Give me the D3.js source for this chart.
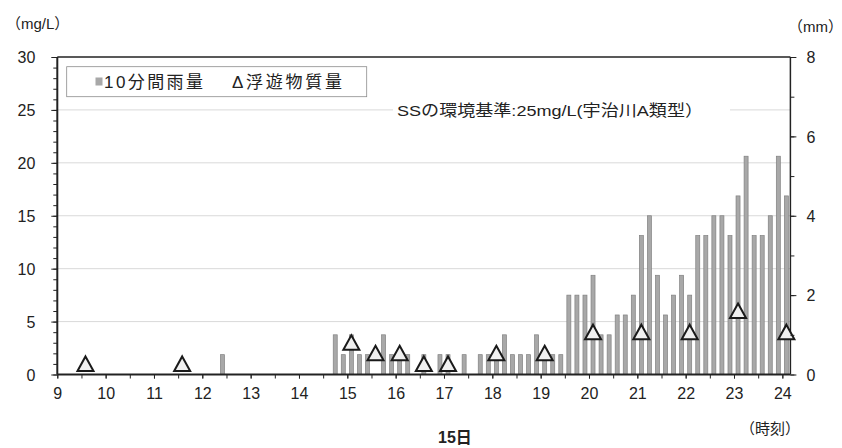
<!DOCTYPE html>
<meta charset='utf-8'>
<head>
    <title>SS</title>
    <script src='https://cdn.jsdelivr.net/npm/d3@7/dist/d3.min.js'></script>
</head>

<style>
    body { margin: 0; background: #fff; }
    text { font-family: 'Liberation Sans', 'Noto Sans CJK JP', sans-serif; fill: #222; }
    .tick text { font-size: 16px; }
    .tick line { stroke: #222; }
    .domain { display: none; }
</style>

<svg></svg>

<script>
    // 10分間雨量 (mm), time = start of the 10-minute slot
    var rainTimes = ['12:20', '14:40', '14:50', '15:00', '15:10', '15:20', '15:40', '15:50', '16:00', '16:10',
        '16:30', '16:50', '17:00', '17:20', '17:40', '17:50', '18:00', '18:10', '18:20', '18:30',
        '18:40', '18:50', '19:00', '19:10', '19:20', '19:30', '19:40', '19:50', '20:00', '20:10',
        '20:20', '20:30', '20:40', '20:50', '21:00', '21:10', '21:20', '21:30', '21:40', '21:50',
        '22:00', '22:10', '22:20', '22:30', '22:40', '22:50', '23:00', '23:10', '23:20', '23:30',
        '23:40', '23:50', '24:00'];
    var rainMm = [0.5, 1.0, 0.5, 1.0, 0.5, 0.5, 1.0, 0.5, 0.5, 0.5,
        0.5, 0.5, 0.5, 0.5, 0.5, 0.5, 0.5, 1.0, 0.5, 0.5,
        0.5, 1.0, 0.5, 0.5, 0.5, 2.0, 2.0, 2.0, 2.5, 1.0,
        1.0, 1.5, 1.5, 2.0, 3.5, 4.0, 2.5, 1.5, 2.0, 2.5,
        2.0, 3.5, 3.5, 4.0, 4.0, 3.5, 4.5, 5.5, 3.5, 3.5,
        4.0, 5.5, 4.5];

    // 浮遊物質量 (mg/L)
    var ssTimes = ['9:30', '11:30', '15:00', '15:30', '16:00', '16:30', '17:00', '18:00', '19:00',
        '20:00', '21:00', '22:00', '23:00', '24:00'];
    var ssMg = [1, 1, 3, 2, 2, 1, 1, 2, 2, 4, 4, 4, 6, 4];

    var hourLabels = [9, 10, 11, 12, 13, 14, 15, 16, 17, 18, 19, 20, 21, 22, 23, 24];
    var leftTicks = [0, 5, 10, 15, 20, 25, 30];
    var rightTicks = [0, 2, 4, 6, 8];
    var gridValues = [5, 10, 15, 20, 25];

    var vWidth = 842, vHeight = 448;
    var pLeft = 57.3, pRight = 790.4, pTop = 57, pBottom = 374.5;

    function hrs(s) { var p = s.split(':'); return +p[0] + p[1] / 60; }
    var half = 5 / 60;   // center of a 10 minute slot

    var svg = d3.select('svg').attr('width', vWidth).attr('height', vHeight);

    var x = d3.scaleLinear().domain([9, hrs('24:10')]).range([pLeft, pRight]);
    var yL = d3.scaleLinear().domain([0, 30]).range([pBottom, pTop]);
    var yR = d3.scaleLinear().domain([0, 8]).range([pBottom, pTop]);

    // gridlines
    svg.append('g').selectAll('line').data(gridValues).enter().append('line')
        .attr('x1', pLeft).attr('x2', pRight)
        .attr('y1', function (d) { return yL(d); }).attr('y2', function (d) { return yL(d); })
        .attr('stroke', '#d9d9d9').attr('stroke-width', 1);

    // rain bars
    svg.append('g').selectAll('rect').data(rainTimes).enter().append('rect')
        .attr('x', function (d) { return x(hrs(d) + half) - 2; })
        .attr('width', 4)
        .attr('y', function (d, i) { return yR(rainMm[i]); })
        .attr('height', function (d, i) { return pBottom - yR(rainMm[i]); })
        .attr('fill', '#a8a8a8').attr('stroke', '#808080').attr('stroke-width', 0.7);

    // annotation over the 25 mg/L line
    svg.append('rect').attr('x', 393).attr('y', yL(25) - 9).attr('width', 337).attr('height', 18).attr('fill', '#fff');
    svg.append('text').attr('x', 397).attr('y', yL(25) + 6)
        .attr('font-size', 15.5).attr('textLength', 306).attr('lengthAdjust', 'spacingAndGlyphs')
        .text('SSの環境基準:25mg/L(宇治川A類型）');

    // frame
    svg.append('line').attr('x1', pLeft).attr('x2', pRight).attr('y1', pTop).attr('y2', pTop)
        .attr('stroke', '#222').attr('stroke-width', 1.5);
    svg.append('line').attr('x1', pRight).attr('x2', pRight).attr('y1', pTop).attr('y2', pBottom)
        .attr('stroke', '#222').attr('stroke-width', 1.5);
    svg.append('line').attr('x1', pLeft).attr('x2', pLeft).attr('y1', pTop).attr('y2', pBottom)
        .attr('stroke', '#222').attr('stroke-width', 2);
    svg.append('line').attr('x1', pLeft).attr('x2', pRight).attr('y1', pBottom).attr('y2', pBottom)
        .attr('stroke', '#222').attr('stroke-width', 2);

    // SS triangles
    svg.append('g').selectAll('path').data(ssTimes).enter().append('path')
        .attr('d', 'M0,-7.5L8,7L-8,7Z')
        .attr('transform', function (d, i) { return 'translate(' + x(hrs(d) + half) + ',' + yL(ssMg[i]) + ')'; })
        .attr('fill', '#f0f0f0').attr('stroke', '#1a1a1a').attr('stroke-width', 2);

    // left axis
    svg.append('g').attr('transform', 'translate(' + pLeft + ',0)')
        .call(d3.axisLeft(yL).tickValues(d3.range(0, 31, 1)).tickSize(4).tickFormat(''));
    svg.append('g').attr('transform', 'translate(' + pLeft + ',0)')
        .call(d3.axisLeft(yL).tickValues(leftTicks).tickSize(6).tickPadding(16))
        .selectAll('text').attr('dy', '0.36em');

    // right axis
    svg.append('g').attr('transform', 'translate(' + pRight + ',0)')
        .call(d3.axisRight(yR).tickValues(d3.range(0, 9, 1)).tickSize(4).tickFormat(''));
    svg.append('g').attr('transform', 'translate(' + pRight + ',0)')
        .call(d3.axisRight(yR).tickValues(rightTicks).tickSize(6).tickPadding(10))
        .selectAll('text').attr('dy', '0.36em');

    // bottom axis
    svg.append('g').attr('transform', 'translate(0,' + pBottom + ')')
        .call(d3.axisBottom(x).tickValues(d3.range(9, 24.01, 0.5)).tickSize(4).tickFormat(''));
    svg.append('g').attr('transform', 'translate(0,' + pBottom + ')')
        .call(d3.axisBottom(x).tickValues(hourLabels).tickSize(4).tickPadding(9).tickFormat(d3.format('d')));

    // legend
    var lg = svg.append('g');
    lg.append('rect').attr('x', 66.7).attr('y', 66.7).attr('width', 300).attr('height', 30)
        .attr('fill', '#fff').attr('stroke', '#8c8c8c').attr('stroke-width', 0.8);
    lg.append('rect').attr('x', 95.5).attr('y', 77.5).attr('width', 7).attr('height', 8).attr('fill', '#a8a8a8');
    lg.append('text').attr('x', 104).attr('y', 88).attr('font-size', 17)
        .attr('textLength', 99).attr('lengthAdjust', 'spacing').text('10分間雨量');
    lg.append('text').attr('x', 232).attr('y', 88).attr('font-size', 17)
        .attr('textLength', 110).attr('lengthAdjust', 'spacing').text('Δ浮遊物質量');

    // unit / axis titles
    svg.append('text').attr('x', 6).attr('y', 29).attr('font-size', 15).text('（mg/L）');
    svg.append('text').attr('x', 788).attr('y', 32).attr('font-size', 15).text('（mm）');
    svg.append('text').attr('x', 740).attr('y', 434).attr('font-size', 15).text('（時刻）');
    svg.append('text').attr('x', 438).attr('y', 443).attr('font-size', 16).attr('font-weight', 'bold').text('15日');
</script>
